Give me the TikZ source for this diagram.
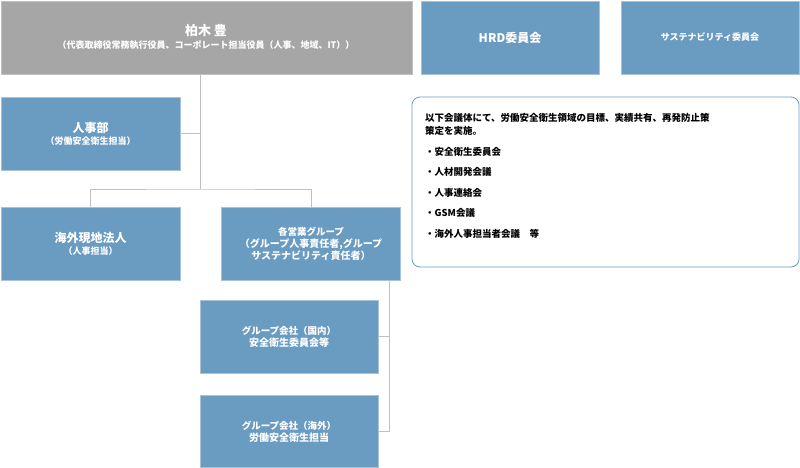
\documentclass[tikz,border=0pt]{standalone}
\usepackage{fontspec}
\setmainfont{Noto Sans CJK JP}
\definecolor{bx}{HTML}{6A9BC0}
\definecolor{gr}{HTML}{A6A6A6}
\definecolor{ln}{HTML}{C0C0C0}
\begin{document}
\begin{tikzpicture}[x=1pt,y=-1pt,
  box/.style={fill=bx,draw=bx!60!white,line width=0.8pt,text=white,font=\bfseries,align=center,inner sep=0pt},
  conn/.style={draw=ln,line width=1pt}]
\useasboundingbox (0,0) rectangle (800,467);
\fill[gr,draw=gr!70!white] (1,1) rectangle (412,74);
\node[text=white,font=\bfseries,align=center] (top) at (206,37) {{\fontsize{13}{16}\selectfont 柏木 豊}\\[1pt]{\fontsize{9}{11}\selectfont （代表取締役常務執行役員、コーポレート担当役員（人事、地域、IT））}};
\path (1,1) coordinate (tl) (412,74) coordinate (br);
\node[box,minimum width=178pt,minimum height=73pt] (hrd) at (510,37.5) {\fontsize{12}{14}\selectfont HRD委員会};
\node[box,minimum width=178pt,minimum height=73pt] (sus) at (710,37.5) {\fontsize{9}{11}\selectfont サステナビリティ委員会};
\node[box,minimum width=179pt,minimum height=73pt] (jinji) at (90.5,133.5) {{\fontsize{12}{15}\selectfont 人事部}\\{\fontsize{9}{12}\selectfont （労働安全衛生担当）}};
\node[box,minimum width=179pt,minimum height=73pt] (kaigai) at (90.5,243.5) {{\fontsize{12}{15}\selectfont 海外現地法人}\\{\fontsize{9}{12}\selectfont （人事担当）}};
\node[box,minimum width=179pt,minimum height=73pt] (eigyo) at (311,244) {\fontsize{9.5}{12.5}\selectfont 各営業グループ\\（グループ人事責任者,グループ\\サステナビリティ責任者）};
\node[box,minimum width=178pt,minimum height=73pt] (gk1) at (289,336.5) {\fontsize{9.5}{13}\selectfont グループ会社（国内）\\安全衛生委員会等};
\node[box,minimum width=178pt,minimum height=72pt] (gk2) at (289,431.5) {\fontsize{9.5}{13}\selectfont グループ会社（海外）\\労働安全衛生担当};
\node[draw=bx,line width=0.8pt,rounded corners=8pt,minimum width=387pt,minimum height=170pt,inner sep=0pt] (panel) at (605.5,182) {};
\node[anchor=north west,align=left,font=\bfseries\fontsize{9.5}{20.5}\selectfont,inner sep=0pt] (ptxt) at (425,113) {以下会議体にて、労働安全衛生領域の目標、実績共有、再発防止策\\[-7pt]策定を実施。\\・安全衛生委員会\\・人材開発会議\\・人事連絡会\\・GSM会議\\・海外人事担当者会議\quad 等};
\coordinate (j1) at (200,189);
\draw[conn] (200,74) -- (j1);
\draw[conn] (jinji.east) -- (jinji.east -| j1);
\draw[conn] (kaigai.north) |- (j1) -| (eigyo.north);
\coordinate (r1) at (389,281);
\draw[conn] (r1) |- (gk2.east);
\draw[conn] (gk1.east) -- (gk1.east -| r1);
\end{tikzpicture}
\end{document}
